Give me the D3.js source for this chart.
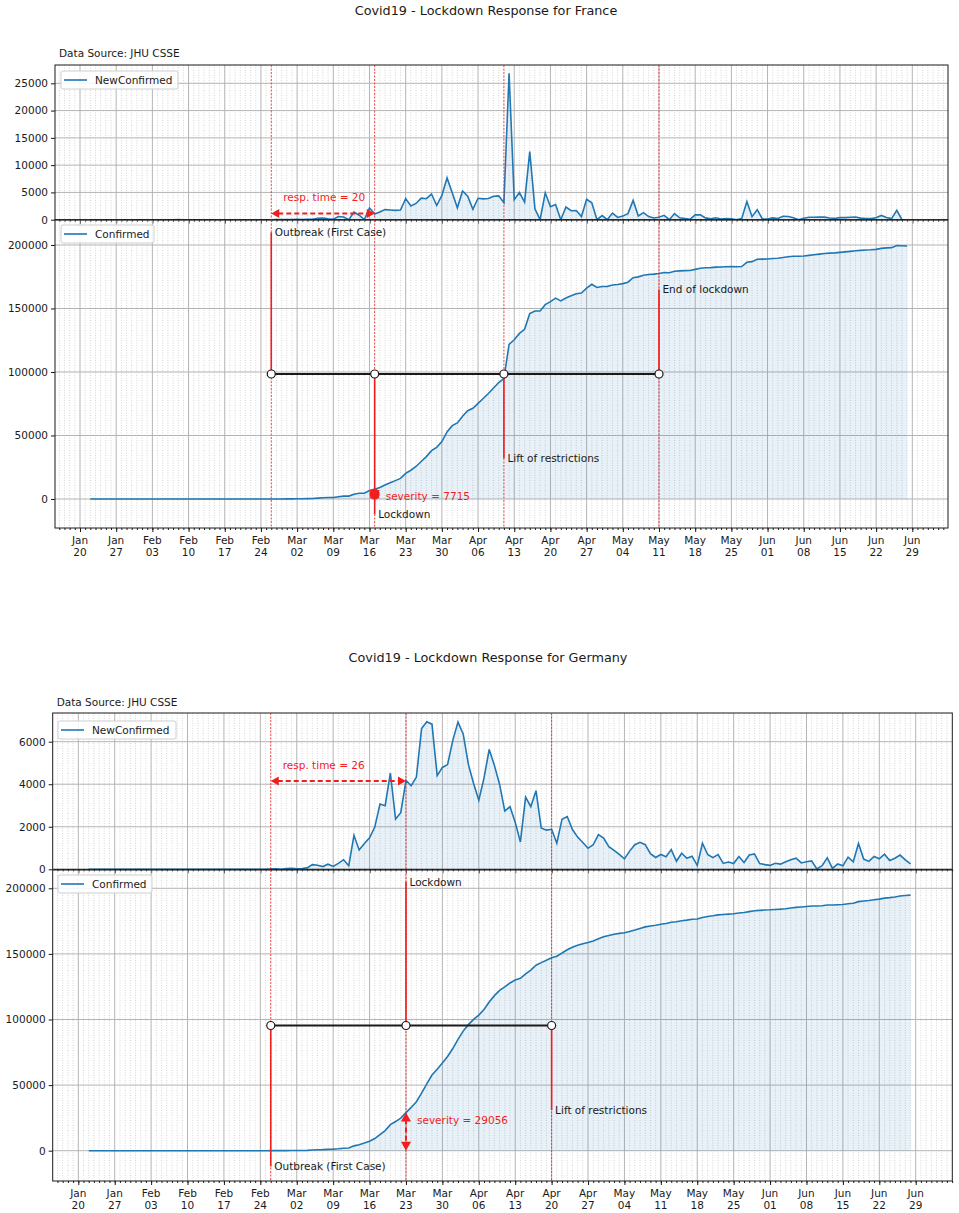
<!DOCTYPE html>
<html>
<head>
<meta charset="utf-8">
<script src="https://cdn.jsdelivr.net/npm/d3@7"></script>
<style>
	body { margin: 0; background: #fff; }
	svg { display: block; font-family: "DejaVu Sans", sans-serif; }
</style>
</head>
<body>
<div id="root"></div>
<script>
// one value per day, Jan 22 .. Jun 28 2020
const days = d3.utcDay.range(new Date(Date.UTC(2020, 0, 22)), new Date(Date.UTC(2020, 5, 29)))

const franceNew = [
	0, 0, 2, 1, 0, 0, 1, 1, 0, 0,
	1, 0, 0, 0, 0, 0, 0, 5, 0, 0, 0, 0, 0, 0, 1, 0, 0, 0, 0, 0, 0, 0, 0, 0, 2, 4, 20, 19, 43,
	30, 61, 13, 84, 92, 276, 301, 179, 83, 575, 499, 0, 1388, 815, 36, 2151, 1032, 1409, 1846, 1788, 1705, 1780, 3880, 2499, 2978, 3951, 3851, 4703, 2603, 4462, 7657,
	4922, 2180, 5273, 4298, 1912, 3931, 3820, 3894, 4309, 4372, 3125, 26849, 3682, 4971, 3220, 12490, 2009, 2, 4925, 2382, 2775, 0, 2323, 1649, 1692, 576, 3743, 3090, 0, 756,
	6, 1213, 407, 658, 1111, 3530, 694, 1284, 580, 312, 453, 802, 0, 1122, 339, 211, 71, 882, 891, 336, 183, 365, 125, 204, 154, 0, 191, 3326, 559, 1829, 130,
	127, 339, 221, 611, 579, 343, 0, 282, 458, 462, 495, 466, 302, 235, 386, 379, 446, 494, 293, 206, 206, 352, 782, 395, 200, 1700, 0, 0
]
const franceConfirmed = [
	0, 0, 2, 3, 3, 3, 4, 5, 5, 5,
	6, 6, 6, 6, 6, 6, 6, 11, 11, 11, 11, 11, 11, 11, 12, 12, 12, 12, 12, 12, 12, 12, 12, 12, 14, 18, 38, 57, 100,
	130, 191, 204, 288, 380, 656, 957, 1136, 1219, 1794, 2293, 2293, 3681, 4496, 4532, 6683, 7715, 9124, 10970, 12758, 14463, 16243, 20123, 22622, 25600, 29551, 33402, 38105, 40708, 45170, 52827,
	57749, 59929, 65202, 69500, 71412, 75343, 79163, 83057, 87366, 91738, 94863, 121712, 125394, 130365, 133585, 146075, 148084, 148086, 153011, 155393, 158168, 155980, 158303, 159952, 161644, 162220, 165963, 169053, 166543, 167299,
	167305, 168518, 168925, 169583, 170694, 174224, 174918, 176202, 176782, 177094, 177547, 178349, 178184, 179306, 179645, 179856, 179927, 180809, 181700, 182036, 182219, 182584, 182709, 182913, 183067, 182847, 183038, 186364, 186923, 188752, 188882,
	189009, 189348, 189569, 190180, 190759, 191102, 191102, 191384, 191842, 192304, 192799, 193265, 193567, 193802, 194188, 194567, 195013, 195507, 195800, 196006, 196212, 196564, 197346, 197741, 197941, 199641, 199441, 199241
]
const germanyNew = [
	0, 0, 0, 0, 0, 1, 3, 0, 0, 1,
	3, 2, 2, 0, 0, 0, 1, 0, 1, 0, 2, 0, 0, 0, 0, 0, 0, 0, 0, 0, 0, 0, 0, 0, 1, 10, 19, 2, 31,
	51, 29, 37, 66, 220, 188, 129, 241, 136, 281, 451, 170, 1597, 910, 1210, 1477, 1985, 3070, 2993, 4528, 2365, 2660, 4183, 3930, 4337, 6615, 6933, 6824, 4400, 4790, 4923,
	6064, 6922, 6365, 4933, 4031, 3251, 4289, 5633, 4885, 3990, 2737, 2946, 2218, 1287, 3394, 2945, 3699, 1945, 1842, 1881, 1226, 2357, 2481, 1870, 1514, 1257, 988, 1154, 1627, 1470,
	1068, 890, 697, 488, 855, 1155, 1268, 1158, 736, 555, 697, 595, 927, 380, 755, 519, 617, 182, 1227, 695, 548, 689, 276, 342, 272, 600, 324, 672, 726, 267, 221,
	184, 285, 242, 351, 452, 526, 300, 359, 397, 16, 169, 535, 41, 251, 164, 570, 352, 1213, 482, 371, 602, 496, 712, 410, 520, 670, 440, 250
]
const germanyConfirmed = [
	0, 0, 0, 0, 0, 1, 4, 4, 4, 5,
	8, 10, 12, 12, 12, 12, 13, 13, 14, 14, 16, 16, 16, 16, 16, 16, 16, 16, 16, 16, 16, 16, 16, 16, 17, 27, 46, 48, 79,
	130, 159, 196, 262, 482, 670, 799, 1040, 1176, 1457, 1908, 2078, 3675, 4585, 5795, 7272, 9257, 12327, 15320, 19848, 22213, 24873, 29056, 32986, 37323, 43938, 50871, 57695, 62095, 66885, 71808,
	77872, 84794, 91159, 96092, 100123, 103374, 107663, 113296, 118181, 122171, 124908, 127854, 130072, 131359, 134753, 137698, 141397, 143342, 145184, 147065, 148291, 150648, 153129, 154999, 156513, 157770, 158758, 159912, 161539, 163009,
	164077, 164967, 165664, 166152, 167007, 168162, 169430, 170588, 171324, 171879, 172576, 173171, 174098, 174478, 175233, 175752, 176369, 176551, 177778, 178473, 179021, 179710, 179986, 180328, 180600, 181200, 181524, 182196, 182922, 183189, 183410,
	183594, 183879, 184121, 184472, 184924, 185450, 185750, 186109, 186506, 186522, 186691, 187226, 187267, 187518, 187682, 188252, 188604, 189817, 190299, 190670, 191272, 191768, 192480, 192890, 193410, 194080, 194520, 194770
]

const franceNewTicks = [0, 5000, 10000, 15000, 20000, 25000]
const germanyNewTicks = [0, 2000, 4000, 6000]
const confirmedTicks = [0, 50000, 100000, 150000, 200000]

// event date, label text, and the confirmed-count level where its label sits
const franceEvents = [
	{ name: 'Outbreak (First Case)', date: '2020-02-26', labelAt: 210000 },
	{ name: 'Lockdown', date: '2020-03-17', labelAt: -12000 },
	{ name: 'Lift of restrictions', date: '2020-04-11', labelAt: 32000 },
	{ name: 'End of lockdown', date: '2020-05-11', labelAt: 165000 }
]
const germanyEvents = [
	{ name: 'Outbreak (First Case)', date: '2020-02-26', labelAt: -12000 },
	{ name: 'Lockdown', date: '2020-03-23', labelAt: 205000 },
	{ name: 'Lift of restrictions', date: '2020-04-20', labelAt: 31000 }
]
const franceRespLevel = 1150
const germanyRespLevel = 4150

const C = {
	width: 959,
	height: 1213,
	blue: '#1f77b4',
	red: '#f21d1d',
	ink: '#1a1a1a',
	font: 10.5,
	France: {
		left: 55, right: 948, xStart: 80, xEnd: 912.3,
		titleX: 486, titleY: 15, sourceY: 57,
		top: [65, 219.7], topDomain: [0, 28354],
		bottom: [220, 528], bottomDomain: [-22835, 219685],
		legendTop: [61, 71, 117], legendBottom: [61, 225, 93]
	},
	Germany: {
		left: 52.7, right: 952.3, xStart: 78.3, xEnd: 915.7,
		titleX: 488, titleY: 662, sourceY: 706,
		top: [713, 869.3], topDomain: [0, 7349],
		bottom: [870, 1181], bottomDomain: [-23094, 213948],
		legendTop: [58, 721, 118], legendBottom: [58, 875, 94]
	}
}

const svg = d3.select('#root').append('svg')
	.attr('width', C.width)
	.attr('height', C.height)

svg.append('rect')
	.attr('width', C.width)
	.attr('height', C.height)
	.attr('fill', '#fff')

drawCountry('France', franceNew, franceConfirmed, franceNewTicks, franceEvents, franceRespLevel)
drawCountry('Germany', germanyNew, germanyConfirmed, germanyNewTicks, germanyEvents, germanyRespLevel)

function drawCountry(name, newValues, confValues, newTicks, events, respLevel) {
	const P = C[name]

	const x = d3.scaleUtc()
		.domain([new Date(Date.UTC(2020, 0, 20)), new Date(Date.UTC(2020, 5, 29))])
		.range([P.xStart, P.xEnd])
	const yNew = d3.scaleLinear().domain(P.topDomain).range([P.top[1], P.top[0]])
	const yConf = d3.scaleLinear().domain(P.bottomDomain).range([P.bottom[1], P.bottom[0]])

	const minor = d3.utcDay.range(x.invert(P.left), x.invert(P.right))
	const major = d3.utcMonday.range(x.invert(P.left), x.invert(P.right - 3))

	svg.append('text')
		.attr('x', P.titleX)
		.attr('y', P.titleY)
		.attr('text-anchor', 'middle')
		.attr('font-size', 12.8)
		.attr('fill', C.ink)
		.text('Covid19 - Lockdown Response for ' + name)

	svg.append('text')
		.attr('x', P.left + 4)
		.attr('y', P.sourceY)
		.attr('font-size', C.font)
		.attr('fill', C.ink)
		.text('Data Source: JHU CSSE')

	const newData = days.map((d, i) => ({ date: d, v: newValues[i] }))
	const confData = days.map((d, i) => ({ date: d, v: confValues[i] }))

	drawPanel(name + 'New', P, x, yNew, P.top, newData, newTicks, minor, major, false)
	drawPanel(name + 'Conf', P, x, yConf, P.bottom, confData, confirmedTicks, minor, major, true)

	// -- events --
	const evX = events.map(e => x(new Date(e.date)))

	;[P.top, P.bottom].forEach(r => {
		svg.append('g').selectAll('line')
			.data(evX)
			.enter()
			.append('line')
			.attr('x1', d => d).attr('x2', d => d)
			.attr('y1', r[0]).attr('y2', r[1])
			.attr('stroke', C.red)
			.attr('stroke-width', 0.8)
			.attr('stroke-dasharray', '2,1.5')
	})

	// response time arrow (top panel)
	const ry = yNew(respLevel)
	const respDays = d3.utcDay.count(new Date(events[0].date), new Date(events[1].date))
	const ann = svg.append('g')
	ann.append('line')
		.attr('x1', evX[0] + 7).attr('x2', evX[1] - 7)
		.attr('y1', ry).attr('y2', ry)
		.attr('stroke', C.red).attr('stroke-width', 2)
		.attr('stroke-dasharray', '5,3')
	ann.append('path')
		.attr('d', `M${evX[0]},${ry}L${evX[0] + 8},${ry - 4.5}L${evX[0] + 8},${ry + 4.5}Z`)
		.attr('fill', C.red)
	ann.append('path')
		.attr('d', `M${evX[1]},${ry}L${evX[1] - 8},${ry - 4.5}L${evX[1] - 8},${ry + 4.5}Z`)
		.attr('fill', C.red)
	ann.append('text')
		.attr('x', evX[0] + 12)
		.attr('y', ry - 12)
		.attr('font-size', C.font)
		.attr('fill', C.red)
		.text('resp. time = ' + respDays)

	// bottom panel: event connectors
	const midY = yConf(d3.mean(P.bottomDomain))
	ann.append('g').selectAll('line')
		.data(events)
		.enter()
		.append('line')
		.attr('x1', (d, i) => evX[i]).attr('x2', (d, i) => evX[i])
		.attr('y1', midY).attr('y2', d => yConf(d.labelAt))
		.attr('stroke', C.red)
		.attr('stroke-width', 1.6)

	// severity arrow at lockdown
	const lockIdx = days.findIndex(d => +d === +new Date(events[1].date))
	const sev = confValues[lockIdx]
	const sx = evX[1], sTop = yConf(sev), sBot = yConf(0)
	if (sBot - sTop > 16) {
		ann.append('line')
			.attr('x1', sx).attr('x2', sx)
			.attr('y1', sTop + 7).attr('y2', sBot - 7)
			.attr('stroke', C.red).attr('stroke-width', 2)
			.attr('stroke-dasharray', '5,3')
	} else {
		// arrow too short: the two heads merge into a blob
		ann.append('ellipse')
			.attr('cx', sx).attr('cy', (sTop + sBot) / 2)
			.attr('rx', 5).attr('ry', 5.5)
			.attr('fill', C.red)
	}
	ann.append('path')
		.attr('d', `M${sx},${sTop}L${sx - 5},${sTop + 9}L${sx + 5},${sTop + 9}Z`)
		.attr('fill', C.red)
	ann.append('path')
		.attr('d', `M${sx},${sBot}L${sx - 5},${sBot - 9}L${sx + 5},${sBot - 9}Z`)
		.attr('fill', C.red)
	ann.append('text')
		.attr('x', sx + 11)
		.attr('y', sTop + 11)
		.attr('font-size', C.font)
		.attr('fill', C.red)
		.text('severity = ' + sev)

	ann.append('line')
		.attr('x1', evX[0]).attr('x2', evX[evX.length - 1])
		.attr('y1', midY).attr('y2', midY)
		.attr('stroke', C.ink)
		.attr('stroke-width', 2)

	ann.append('g').selectAll('circle')
		.data(evX)
		.enter()
		.append('circle')
		.attr('cx', d => d)
		.attr('cy', midY)
		.attr('r', 4)
		.attr('fill', '#fff')
		.attr('stroke', C.ink)
		.attr('stroke-width', 1.2)

	ann.append('g').selectAll('text')
		.data(events)
		.enter()
		.append('text')
		.attr('x', (d, i) => evX[i] + 3.5)
		.attr('y', d => yConf(d.labelAt) + 4)
		.attr('font-size', C.font)
		.attr('fill', C.ink)
		.text(d => d.name)

	drawLegend(P.legendTop, 'NewConfirmed')
	drawLegend(P.legendBottom, 'Confirmed')
}

function drawPanel(id, P, x, y, yRange, data, yTicks, minor, major, showDates) {
	const g = svg.append('g').attr('id', id)
	const [y0, y1] = yRange

	g.append('clipPath')
		.attr('id', id + 'Clip')
		.append('rect')
		.attr('x', P.left).attr('y', y0)
		.attr('width', P.right - P.left)
		.attr('height', y1 - y0)

	// -- grid --
	g.append('g').selectAll('line')
		.data(minor.filter(d => d.getUTCDay() !== 1))
		.enter()
		.append('line')
		.attr('x1', d => x(d)).attr('x2', d => x(d))
		.attr('y1', y0).attr('y2', y1)
		.attr('stroke', '#c4c4c4')
		.attr('stroke-width', 0.7)
		.attr('stroke-dasharray', '1,1.5')

	g.append('g').selectAll('line')
		.data(major)
		.enter()
		.append('line')
		.attr('x1', d => x(d)).attr('x2', d => x(d))
		.attr('y1', y0).attr('y2', y1)
		.attr('stroke', '#b4b4b4')
		.attr('stroke-width', 1)

	g.append('g').selectAll('line')
		.data(yTicks)
		.enter()
		.append('line')
		.attr('x1', P.left).attr('x2', P.right)
		.attr('y1', d => y(d)).attr('y2', d => y(d))
		.attr('stroke', '#b4b4b4')
		.attr('stroke-width', 1)

	// -- data --
	const plot = g.append('g').attr('clip-path', `url(#${id}Clip)`)
	plot.append('path')
		.datum(data)
		.attr('d', d3.area().x(d => x(d.date)).y0(y(0)).y1(d => y(d.v)))
		.attr('fill', C.blue)
		.attr('fill-opacity', 0.1)
	plot.append('path')
		.datum(data)
		.attr('d', d3.line().x(d => x(d.date)).y(d => y(d.v)))
		.attr('fill', 'none')
		.attr('stroke', C.blue)
		.attr('stroke-width', 1.6)

	// -- axis --
	const axisMinor = d3.axisBottom(x).tickValues(minor).tickSize(2).tickFormat(''),
		axisMajor = d3.axisBottom(x).tickValues(major).tickSize(4).tickFormat(''),
		axisY = d3.axisLeft(y).tickValues(yTicks).tickSize(4).tickPadding(3).tickFormat(d3.format('d'))

	g.append('g')
		.attr('transform', `translate(0,${y1})`)
		.call(axisMinor)
		.call(a => a.select('.domain').remove())
		.attr('color', C.ink)
	g.append('g')
		.attr('transform', `translate(0,${y1})`)
		.call(axisMajor)
		.call(a => a.select('.domain').remove())
		.attr('color', C.ink)
	g.append('g')
		.attr('transform', `translate(${P.left},0)`)
		.call(axisY)
		.call(a => a.select('.domain').remove())
		.attr('color', C.ink)
		.attr('font-size', C.font)
		.attr('font-family', '"DejaVu Sans", sans-serif')

	if (showDates) {
		const fmtM = d3.utcFormat('%b'), fmtD = d3.utcFormat('%d')
		const lab = g.append('g').selectAll('text')
			.data(major)
			.enter()
			.append('text')
			.attr('text-anchor', 'middle')
			.attr('font-size', C.font)
			.attr('fill', C.ink)
		lab.append('tspan')
			.attr('x', d => x(d))
			.attr('y', y1 + 16)
			.text(d => fmtM(d))
		lab.append('tspan')
			.attr('x', d => x(d))
			.attr('y', y1 + 28)
			.text(d => fmtD(d))
	}

	g.append('rect')
		.attr('x', P.left).attr('y', y0)
		.attr('width', P.right - P.left)
		.attr('height', y1 - y0)
		.attr('fill', 'none')
		.attr('stroke', C.ink)
		.attr('stroke-width', 1)
}

function drawLegend(pos, label) {
	const [lx, ly, w] = pos
	const g = svg.append('g')
	g.append('rect')
		.attr('x', lx).attr('y', ly)
		.attr('width', w).attr('height', 18)
		.attr('rx', 2)
		.attr('fill', '#fff')
		.attr('fill-opacity', 0.85)
		.attr('stroke', '#cfcfcf')
	g.append('line')
		.attr('x1', lx + 3).attr('x2', lx + 26)
		.attr('y1', ly + 9).attr('y2', ly + 9)
		.attr('stroke', C.blue)
		.attr('stroke-width', 1.6)
	g.append('text')
		.attr('x', lx + 34)
		.attr('y', ly + 13)
		.attr('font-size', C.font)
		.attr('fill', C.ink)
		.text(label)
}
</script>
</body>
</html>
